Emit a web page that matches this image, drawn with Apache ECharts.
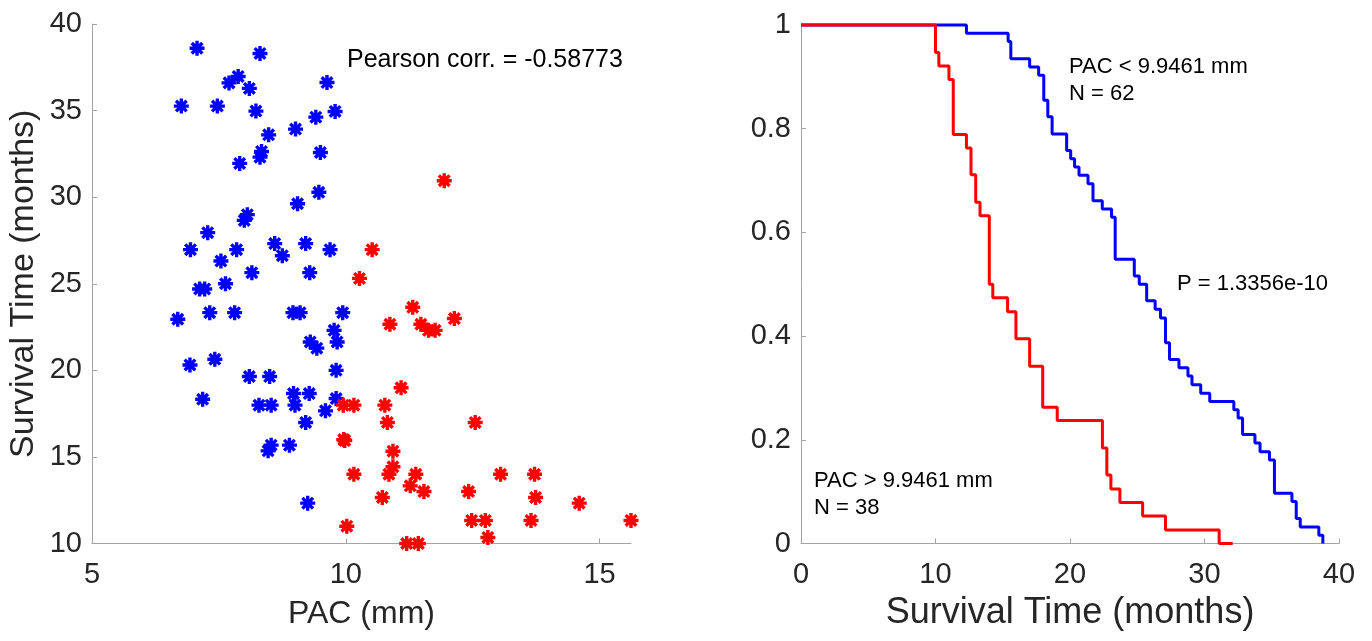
<!DOCTYPE html>
<html>
<head>
<meta charset="utf-8">
<script src="https://cdn.jsdelivr.net/npm/echarts@6/dist/echarts.min.js"></script>
<style>
html,body{margin:0;padding:0;background:#fff;}
#chart{width:1372px;height:641px;}
</style>
</head>
<body>
<div id="chart"></div>
<script>
// ---- Scatter data: PAC (mm) vs survival time (months) ----
const pacBlue = [7.07,8.31,7.88,7.70,8.10,9.63,6.76,7.47,8.23,9.79,9.41,9.01,8.48,8.34,8.31,9.50,7.91,9.47,9.05,8.06,
  8.00,7.28,6.94,7.85,8.60,8.75,9.21,9.69,7.54,8.15,9.29,7.12,7.22,7.63,6.69,7.32,7.81,8.96,9.10,9.94,
  9.77,9.83,9.30,9.43,6.93,7.42,9.81,8.10,8.50,7.18,8.29,8.53,8.97,9.00,9.28,9.81,9.60,9.21,8.53,8.47,
  8.89,9.25];
const survBlue = [38.6,38.3,36.97,36.6,36.28,36.62,35.26,35.26,34.97,34.95,34.62,33.93,33.6,32.64,32.31,32.58,31.95,30.28,29.62,28.99,
  28.66,27.95,26.97,26.97,27.32,26.62,27.32,26.97,26.31,25.64,25.64,24.7,24.7,25.0,22.95,23.33,23.33,23.33,23.33,23.33,
  22.31,21.64,21.64,21.28,20.31,20.64,20.0,19.64,19.64,18.33,17.99,17.99,18.66,17.99,18.66,18.37,17.66,16.99,15.68,15.35,
  15.68,12.33];
const pacRed = [11.94,10.52,10.27,11.32,10.87,11.48,11.63,11.76,12.14,11.09,9.95,10.16,10.77,10.82,12.55,9.96,10.93,10.16,10.93,10.85,
  11.38,13.05,13.72,11.27,11.54,12.42,10.72,13.74,14.60,10.02,12.48,12.75,13.65,15.62,12.80,11.20,11.43,9.98];
const survRed = [30.95,26.97,25.31,23.64,22.66,22.66,22.31,22.31,22.99,18.99,17.99,17.99,17.99,16.99,16.99,16.0,15.33,14.0,14.43,14.0,
  14.0,14.0,14.0,13.33,13.0,13.0,12.66,12.66,12.33,11.0,11.33,11.33,11.33,11.33,10.35,10.0,10.0,15.95];

// ---- Kaplan-Meier step points ----
const kmTimeBlue = [0,12.3,15.4,15.6,17.0,17.67,18.05,18.35,18.67,19.75,20.05,20.34,20.67,21.34,21.71,22.4,23.09,23.36,24.78,25.15,
  25.7,26.33,26.73,27.1,27.4,28.1,28.77,29.07,29.72,30.39,32.18,32.5,32.83,33.75,34.13,34.83,35.2,36.5,36.82,37.12,38.5,38.8];
const kmSurvBlue = [1,0.984,0.968,0.935,0.919,0.903,0.855,0.823,0.790,0.758,0.742,0.726,0.710,0.694,0.661,0.645,0.629,0.548,0.516,0.5,
  0.468,0.452,0.435,0.387,0.355,0.339,0.323,0.306,0.290,0.274,0.258,0.242,0.210,0.194,0.177,0.161,0.097,0.081,0.048,0.032,0.016,0];
const kmTimeRed = [0,10.0,10.25,11.0,11.32,12.3,12.64,12.99,13.31,14.0,14.26,15.36,15.98,17.0,17.97,19.05,22.41,22.74,23.04,23.71,25.4,27.1,31.09,32.1];
const kmSurvRed = [1,0.947,0.921,0.895,0.789,0.763,0.711,0.658,0.632,0.5,0.474,0.447,0.395,0.342,0.263,0.237,0.184,0.132,0.105,0.079,0.053,0.026,0,0];

// ---- Tick labels ----
const pacTicks = [5,10,15];
const survTicks = [10,15,20,25,30,35,40];
const kmXTicks = [0,10,20,30,40];
const kmYTicks = [0,0.2,0.4,0.6,0.8,1];

const FONT = "'Liberation Sans', Arial, Helvetica, sans-serif";
const AX = '#a3a3a3';
const TXT = '#262626';
const ASTER = 'path://M0,-10L0,10M-10,0L10,0M-7.07,-7.07L7.07,7.07M-7.07,7.07L7.07,-7.07';

function zip(a,b){return a.map((v,i)=>[v,b[i]]);}

function axisCommon(nameSize){
  return {
    axisLine:{show:true, onZero:false, lineStyle:{color:AX, width:1}},
    splitLine:{show:false},
    nameTextStyle:{color:TXT, fontSize:nameSize, fontFamily:FONT},
    nameLocation:'middle'
  };
}
function ticks(vals){return {show:true, inside:true, length:5, lineStyle:{color:AX}, customValues:vals};}
function labels(vals, m){return {color:TXT, fontSize:29, fontFamily:FONT, margin:m, customValues:vals};}

const chart = echarts.init(document.getElementById('chart'), null, {renderer:'canvas'});
const option = {
  animation:false,
  backgroundColor:'#ffffff',
  grid:[
    {left:92, right:741, top:24, bottom:97.5, containLabel:false},
    {left:801, right:33, top:25, bottom:97.5, containLabel:false}
  ],
  xAxis:[
    Object.assign(axisCommon(32), {gridIndex:0, type:'value', min:5, max:15.62, name:'PAC (mm)', nameGap:55,
      axisTick:ticks(pacTicks), axisLabel:labels(pacTicks,17)}),
    Object.assign(axisCommon(36), {gridIndex:1, type:'value', min:0, max:40, name:'Survival Time (months)', nameGap:52,
      axisTick:ticks(kmXTicks), axisLabel:labels(kmXTicks,17)})
  ],
  yAxis:[
    Object.assign(axisCommon(34), {gridIndex:0, type:'value', min:10, max:40, name:'Survival Time (months)', nameGap:51,
      axisTick:ticks(survTicks), axisLabel:labels(survTicks,10)}),
    Object.assign(axisCommon(32), {gridIndex:1, type:'value', min:0, max:1,
      axisTick:ticks(kmYTicks), axisLabel:labels(kmYTicks,10)})
  ],
  series:[
    {type:'scatter', xAxisIndex:0, yAxisIndex:0, data:zip(pacBlue,survBlue), symbol:ASTER, symbolSize:15,
      itemStyle:{color:'#0000ff', borderColor:'#0000ff', borderWidth:3.4, opacity:1}, emphasis:{disabled:true}, silent:true},
    {type:'scatter', xAxisIndex:0, yAxisIndex:0, data:zip(pacRed,survRed), symbol:ASTER, symbolSize:15,
      itemStyle:{color:'#ff0000', borderColor:'#ff0000', borderWidth:3.4, opacity:1}, emphasis:{disabled:true}, silent:true},
    {type:'line', xAxisIndex:1, yAxisIndex:1, data:zip(kmTimeBlue,kmSurvBlue), step:'end', showSymbol:false,
      lineStyle:{color:'#0000ff', width:3}, silent:true, clip:false},
    {type:'line', xAxisIndex:1, yAxisIndex:1, data:zip(kmTimeRed,kmSurvRed), step:'end', showSymbol:false,
      lineStyle:{color:'#ff0000', width:3}, silent:true, clip:false}
  ],
  graphic:[
    {type:'text', left:347, top:48, style:{text:'Pearson corr. = -0.58773', fill:'#000', fontSize:25, fontFamily:FONT}},
    {type:'text', left:1069, top:53, style:{text:'PAC < 9.9461 mm\nN = 62', fill:'#000', fontSize:22, fontFamily:FONT, lineHeight:27}},
    {type:'text', left:1177, top:273, style:{text:'P = 1.3356e-10', fill:'#000', fontSize:22, fontFamily:FONT}},
    {type:'text', left:814, top:467, style:{text:'PAC > 9.9461 mm\nN = 38', fill:'#000', fontSize:22, fontFamily:FONT, lineHeight:27}}
  ]
};
chart.setOption(option);
</script>
</body>
</html>
